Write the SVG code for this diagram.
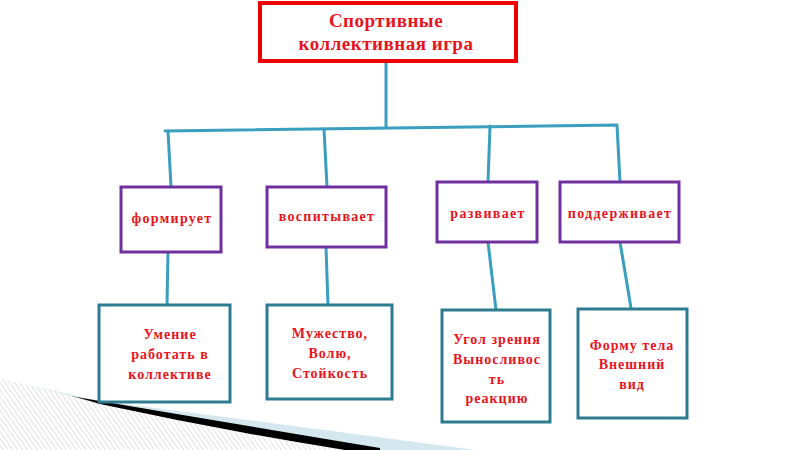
<svg xmlns="http://www.w3.org/2000/svg" width="800" height="450" viewBox="0 0 800 450">
<defs>
<pattern id="hatch" width="4" height="4" patternUnits="userSpaceOnUse" patternTransform="rotate(-35)">
<rect width="4" height="4" fill="#ffffff"/>
<line x1="0" y1="0" x2="0" y2="4" stroke="#d9d9d9" stroke-width="1.5"/>
</pattern>
</defs>
<style>
.t{font-family:"Liberation Serif","Times New Roman",serif;font-weight:bold;fill:#e8141c;text-anchor:middle;}
.top{font-size:19px;letter-spacing:0.5px;}
.mid{font-size:14px;letter-spacing:1.3px;}
.low{font-size:14px;letter-spacing:1px;}
.red{fill:#ffffff;stroke:#ee0000;stroke-width:4;}
.pur{fill:#ffffff;stroke:#7030a0;stroke-width:3;}
.teal{fill:#ffffff;stroke:#2e7c8f;stroke-width:3;}
.conn{fill:none;stroke:#3a9fbf;stroke-width:3;stroke-linecap:round;stroke-linejoin:round;}
</style>
<rect width="800" height="450" fill="#ffffff"/>
<g id="decoration">
<path d="M0,379 Q60,392 100,401 Q250,420 475,450 L0,450 Z" fill="#d5e8ef"/>
<path d="M70,396 Q200,418 380,448 L380,450 L0,450 Z" fill="#000000"/>
<path d="M0,379 Q60,392 100,404 Q220,430 345,450 L0,450 Z" fill="url(#hatch)"/>
</g>
<g id="connectors" class="conn">
<path d="M386,62 L386,127"/>
<path d="M165,131 L617,125 L620,182"/>
<path d="M168,131 L171,187"/>
<path d="M324,129 L327,187"/>
<path d="M490,126 L488,182"/>
<path d="M168,252 L167,305"/>
<path d="M326,247 L328,305"/>
<path d="M488,242 L496,310"/>
<path d="M620,242 L631,308"/>
</g>
<g id="node-root">
<rect class="red" x="260" y="3" width="256" height="58"/>
<text class="t top" x="386" y="27">Спортивные</text>
<text class="t top" x="386" y="50">коллективная игра</text>
</g>
<g id="node-formiruet">
<rect class="pur" x="121" y="187" width="100" height="65"/>
<text class="t mid" x="172" y="223">формирует</text>
</g>
<g id="node-vospityvaet">
<rect class="pur" x="267" y="187" width="119" height="60"/>
<text class="t mid" x="327" y="221">воспитывает</text>
</g>
<g id="node-razvivaet">
<rect class="pur" x="437" y="182" width="100" height="60"/>
<text class="t mid" x="488" y="218">развивает</text>
</g>
<g id="node-podderzhivaet">
<rect class="pur" x="560" y="182" width="119" height="60"/>
<text class="t mid" x="620" y="218">поддерживает</text>
</g>
<g id="node-umenie">
<rect class="teal" x="99" y="305" width="131" height="97"/>
<text class="t low" x="170" y="339">Умение</text>
<text class="t low" x="170" y="359">работать в</text>
<text class="t low" x="170" y="379">коллективе</text>
</g>
<g id="node-muzhestvo">
<rect class="teal" x="267" y="305" width="125" height="94"/>
<text class="t low" x="330" y="338">Мужество,</text>
<text class="t low" x="330" y="358">Волю,</text>
<text class="t low" x="330" y="378">Стойкость</text>
</g>
<g id="node-ugol">
<rect class="teal" x="442" y="310" width="108" height="112"/>
<text class="t low" x="497" y="344">Угол зрения</text>
<text class="t low" x="497" y="364">Выносливос</text>
<text class="t low" x="497" y="384">ть</text>
<text class="t low" x="497" y="403">реакцию</text>
</g>
<g id="node-forma">
<rect class="teal" x="578" y="309" width="109" height="109"/>
<text class="t low" x="632" y="350">Форму тела</text>
<text class="t low" x="632" y="369">Внешний</text>
<text class="t low" x="632" y="389">вид</text>
</g>
</svg>
